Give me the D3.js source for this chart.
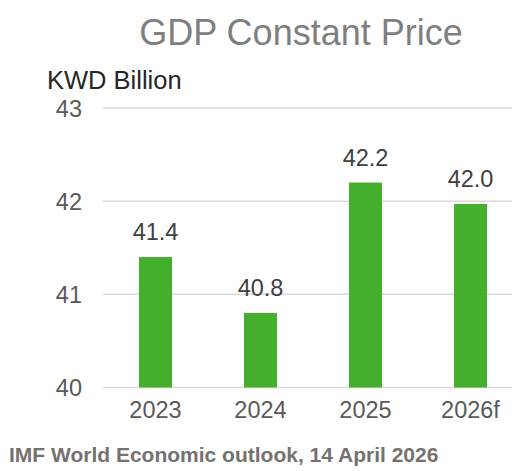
<!DOCTYPE html>
<html>
<head>
<meta charset="utf-8">
<script src="https://cdn.jsdelivr.net/npm/d3@7"></script>
<style>
  body { margin: 0; background: #fff; }
  text { font-family: Arial, "Liberation Sans", sans-serif; }
</style>
</head>
<body>
<div id="chart"></div>
<script>
// chart data
var years = ["2023", "2024", "2025", "2026f"];
var gdp = [41.4, 40.8, 42.2, 41.97];
var yTicks = [40, 41, 42, 43];

var W = 512, H = 471;
var margin = {top: 108, left: 103, bottom: 84};

var svg = d3.select("#chart").append("svg")
    .attr("width", W)
    .attr("height", H);

var x = d3.scaleBand()
    .domain(years)
    .range([margin.left, margin.left + 420])
    .paddingInner(0.686)
    .paddingOuter(0.343);

var y = d3.scaleLinear()
    .domain([40, 43])
    .range([H - margin.bottom + 0.5, margin.top]);

// gridlines
svg.append("g")
    .selectAll("line")
    .data(yTicks)
  .enter().append("line")
    .attr("x1", margin.left)
    .attr("x2", W)
    .attr("y1", function(d) { return y(d); })
    .attr("y2", function(d) { return y(d); })
    .attr("stroke", "#d9d9d9")
    .attr("stroke-width", 1.5);

// y axis labels
var yAxis = svg.append("g")
    .attr("transform", "translate(" + (margin.left - 21) + ",0)")
    .call(d3.axisLeft(y).tickValues(yTicks).tickFormat(d3.format("d")).tickSize(0).tickPadding(0));
yAxis.select(".domain").remove();
yAxis.selectAll("text")
    .attr("font-size", 23.5)
    .attr("fill", "#595959")
    .attr("dy", "0.36em");

// x axis labels
var xAxis = svg.append("g")
    .attr("transform", "translate(0," + y(40) + ")")
    .call(d3.axisBottom(x).tickSize(0).tickPadding(14));
xAxis.select(".domain").remove();
xAxis.selectAll("text")
    .attr("font-size", 23.5)
    .attr("fill", "#595959");

// bars
svg.selectAll(".bar")
    .data(gdp)
  .enter().append("rect")
    .attr("class", "bar")
    .attr("x", function(d, i) { return x(years[i]); })
    .attr("width", x.bandwidth())
    .attr("y", function(d) { return y(d); })
    .attr("height", function(d) { return y(40) - y(d); })
    .attr("fill", "#44AF2C");

// value labels
svg.selectAll(".lbl")
    .data(gdp)
  .enter().append("text")
    .attr("class", "lbl")
    .attr("x", function(d, i) { return x(years[i]) + x.bandwidth() / 2; })
    .attr("y", function(d) { return y(d) - 17; })
    .attr("text-anchor", "middle")
    .attr("font-size", 23.5)
    .attr("fill", "#404040")
    .text(function(d) { return d.toFixed(1); });

// title
svg.append("text")
    .attr("x", 301)
    .attr("y", 45)
    .attr("text-anchor", "middle")
    .attr("font-size", 36)
    .attr("fill", "#7f7f7f")
    .text("GDP Constant Price");

svg.append("text")
    .attr("x", 47)
    .attr("y", 89)
    .attr("font-size", 25.5)
    .attr("fill", "#262626")
    .text("KWD Billion");

// source
svg.append("text")
    .attr("x", 9)
    .attr("y", 462)
    .attr("font-size", 21)
    .attr("font-weight", "bold")
    .attr("fill", "#767171")
    .text("IMF World Economic outlook, 14 April 2026");
</script>
</body>
</html>
